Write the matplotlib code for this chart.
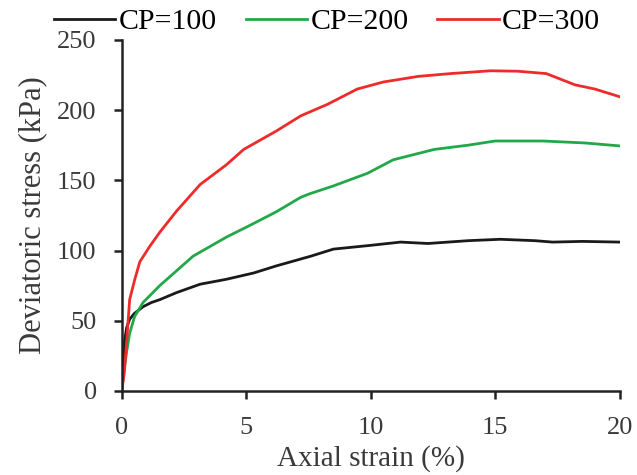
import matplotlib.pyplot as plt

plt.rcParams['font.family'] = ['Liberation Serif', 'DejaVu Serif']

# axial strain (%) vs deviatoric stress (kPa)
strain_100 = [0, 0.05, 0.12, 0.2, 0.32, 0.5, 0.86, 1.2, 1.53, 2.2, 3.15, 4.2, 5.3, 6.2,
              7.2, 7.6, 8.5, 9.9, 11.2, 12.3, 13.9, 15.2, 16.6, 17.3, 18.5, 20]
stress_100 = [0, 17, 36, 45, 51, 55, 60, 63, 65, 70, 76, 79.5, 84, 89,
              94, 96, 101, 103.5, 106, 105, 107, 108, 107, 106, 106.5, 106]

strain_200 = [0, 0.1, 0.2, 0.32, 0.52, 0.86, 1.53, 2.87, 4.2, 5.16, 6.2, 7.2, 7.58,
              8.5, 9.87, 10.9, 12.55, 13.9, 15.0, 16.9, 18.6, 20]
stress_200 = [0, 15, 28, 41, 53, 63, 75, 96, 109.5, 118, 127.5, 138, 140.6,
              146, 155, 164.6, 172, 175, 178, 178, 176.6, 174.5]

strain_300 = [0, 0.1, 0.2, 0.32, 0.52, 0.73, 1.13, 1.53, 2.2, 3.15, 4.2, 4.9, 6.2, 7.2,
              8.25, 9.46, 10.5, 11.9, 13.2, 14.8, 15.9, 17.05, 18.2, 19.0, 20]
stress_300 = [0, 12, 35, 65, 79, 92, 103, 113, 128, 147, 161, 172, 185, 196,
              204, 215, 220, 224, 226, 228, 227.7, 226, 218, 215, 209.5]

labels = ['CP=100', 'CP=200', 'CP=300']
colors = ['#1a1a1a', '#22a84a', '#ee2b2b']

fig = plt.figure(figsize=(6.37, 4.75), dpi=100)
ax = fig.add_axes([0.191, 0.177, 0.782, 0.739])

series = [(strain_100, stress_100), (strain_200, stress_200), (strain_300, stress_300)]
for (x, y), lab, c in zip(series, labels, colors):
    ax.plot(x, y, color=c, lw=2.0, label=lab)

ax.set_xlim(0, 20)
ax.set_ylim(0, 250)
ax.set_xticks([0, 5, 10, 15, 20])
ax.set_yticks([0, 50, 100, 150, 200, 250])
ax.spines['top'].set_visible(False)
ax.spines['right'].set_visible(False)
for s in ['left', 'bottom']:
    ax.spines[s].set_linewidth(1.8)
    ax.spines[s].set_color('#222222')
ax.tick_params(direction='out', length=6, width=1.8, labelsize=19, colors='#222222',
               labelcolor='#3a3a3a')
ax.tick_params(axis='x', pad=13)
ax.tick_params(axis='y', pad=12)
ax.set_xlabel('Axial strain (%)', fontsize=21, color='#3a3a3a', labelpad=4)
ax.set_ylabel('Deviatoric stress (kPa)', fontsize=22, color='#3a3a3a', labelpad=7)

fig.legend(loc='center left', bbox_to_anchor=(0.042, 0.954), ncol=3, frameon=False,
           fontsize=21.5, handlelength=2.07, handletextpad=0.1, columnspacing=0.97)

fig.savefig('out.png', dpi=100)
